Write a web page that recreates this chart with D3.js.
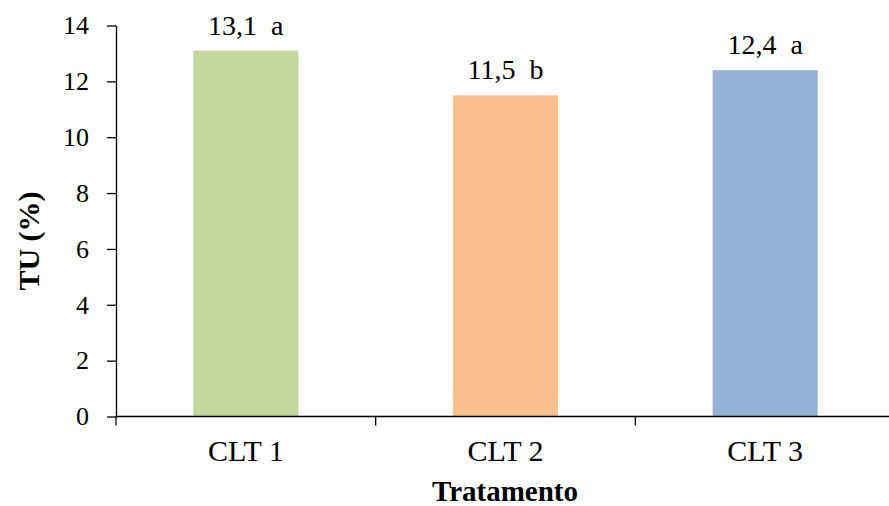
<!DOCTYPE html>
<html><head><meta charset="utf-8">
<script src="https://cdn.jsdelivr.net/npm/d3@7"></script>
<style>body{margin:0;background:#fff}svg{display:block}</style>
</head><body>
<svg id="c" width="889" height="506"></svg>
<script>
const categories = ["CLT 1", "CLT 2", "CLT 3"];
const values = [13.1, 11.5, 12.4];
const letters = ["a", "b", "a"];
const colors = ["#c3d69b", "#fac090", "#95b3d7"];
const yTicks = [0, 2, 4, 6, 8, 10, 12, 14];

const svg = d3.select("#c");
const font = "'Liberation Serif','Times New Roman',serif";
const x = d3.scaleBand().domain(categories).range([116, 895]).paddingInner(0.595).paddingOuter(0.2975);
const y = d3.scaleLinear().domain([0, 14]).range([416.5, 25.5]);

// bars
svg.selectAll("rect.bar").data(categories).enter().append("rect")
  .attr("x", d => x(d)).attr("width", x.bandwidth())
  .attr("y", (d,i) => y(values[i])).attr("height", (d,i) => y(0) - y(values[i]))
  .attr("fill", (d,i) => colors[i]);

// y axis
const ya = svg.append("g").attr("transform", "translate(116,0)")
  .call(d3.axisLeft(y).tickValues(yTicks).tickSize(9).tickSizeOuter(0).tickPadding(18));
ya.attr("font-family", font);
ya.select(".domain").attr("stroke", "#000").attr("stroke-width", 1.3);
ya.selectAll(".tick line").attr("stroke", "#000").attr("stroke-width", 1.3);
ya.selectAll("text").attr("font-family", font).attr("font-size", 26).attr("fill", "#000");

// x axis
const xa = svg.append("g").attr("transform", "translate(0,416.5)");
xa.append("line").attr("x1", 116).attr("x2", 895).attr("stroke", "#000").attr("stroke-width", 1.3);
const bounds = [0, 1, 2, 3].map(i => 116 + i * x.step());
xa.selectAll("line.t").data(bounds).enter().append("line")
  .attr("x1", d => d).attr("x2", d => d).attr("y1", 0).attr("y2", 9)
  .attr("stroke", "#000").attr("stroke-width", 1.3);
xa.selectAll("text").data(categories).enter().append("text")
  .attr("x", d => x(d) + x.bandwidth() / 2).attr("y", 44.5)
  .attr("text-anchor", "middle").attr("font-family", font).attr("font-size", 30).text(d => d);

// value labels
svg.selectAll("text.val").data(categories).enter().append("text")
  .attr("x", d => x(d) + x.bandwidth() / 2)
  .attr("y", (d,i) => y(values[i]) - 16)
  .attr("text-anchor", "middle").attr("font-family", font).attr("font-size", 28)
  .attr("xml:space", "preserve").style("white-space", "pre")
  .text((d,i) => values[i].toFixed(1).replace(".", ",") + "  " + letters[i]);

// axis titles
svg.append("text").attr("x", 505).attr("y", 501).attr("text-anchor", "middle")
  .attr("font-family", font).attr("font-size", 29).attr("font-weight", "bold").text("Tratamento");
svg.append("text").attr("transform", "translate(39,241) rotate(-90)").attr("text-anchor", "middle")
  .attr("font-family", font).attr("font-size", 30).attr("font-weight", "bold").text("TU (%)");
</script>
</body></html>
